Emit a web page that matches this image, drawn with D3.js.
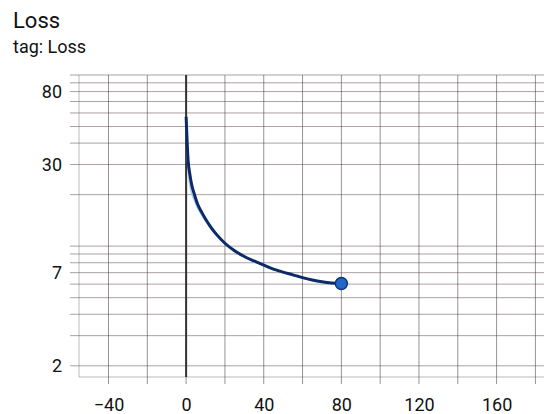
<!DOCTYPE html>
<html>
<head>
<meta charset="utf-8">
<script src="https://cdn.jsdelivr.net/npm/d3@7"></script>
<style>
  body { margin: 0; background: #fff; font-family: Roboto, "Noto Sans", sans-serif; }
  svg { display: block; }
</style>
</head>
<body>
<div id="chart"></div>
<script>
// Loss values per step (smoothed and raw)
const steps = [0, 1, 2, 3, 4, 6, 8, 10, 13, 16, 20, 25, 30, 35, 40, 45, 50, 55, 60, 65, 70, 75, 80];
const smoothedLoss = [57, 32, 26, 22.5, 20.5, 17.5, 15.8, 14.4, 12.8, 11.6, 10.4, 9.4, 8.7, 8.2, 7.75, 7.35, 7.05, 6.8, 6.55, 6.35, 6.2, 6.1, 6.05];
const rawLoss = [52, 28, 22.5, 20, 18.8, 16.6, 15.2, 14, 12.5, 11.4, 10.3, 9.3, 8.65, 8.15, 7.7, 7.3, 7.0, 6.75, 6.5, 6.33, 6.18, 6.08, 6.03];
const xTickValues = [-40, 0, 40, 80, 120, 160];
const xGridValues = [-40, -20, 0, 20, 40, 60, 80, 100, 120, 140, 160, 180];
const yTickValues = [2, 7, 30, 80];

const W = 544, H = 414;
const plot = {left: 79, top: 75, right: 549, bottom: 377};

const svg = d3.select("#chart").append("svg")
    .attr("width", W)
    .attr("height", H);

// Title
svg.append("text")
    .attr("x", 13).attr("y", 28)
    .style("font-size", "22px")
    .style("fill", "#111")
    .text("Loss");
svg.append("text")
    .attr("x", 13).attr("y", 53)
    .style("font-size", "18px")
    .style("fill", "#111")
    .text("tag: Loss");

const xScale = d3.scaleLinear()
    .domain([-55.2, 187])
    .range([plot.left, plot.right]);

const yScale = d3.scaleLog()
    .domain([1.72, 100])
    .range([plot.bottom, plot.top]);

// horizontal grid at every log minor tick
const yGrid = [];
[1, 10, 100].forEach(p => {
    for (let m = 1; m <= 9; m++) {
        const v = m * p;
        if (v >= 1.72 && v <= 100) yGrid.push(v);
    }
});

const grid = svg.append("g").attr("class", "grid");

grid.selectAll(".hgrid")
    .data(yGrid)
    .enter().append("line")
    .attr("x1", 70).attr("x2", W)
    .attr("y1", d => yScale(d)).attr("y2", d => yScale(d))
    .style("stroke", "rgba(90,70,70,0.5)")
    .style("stroke-width", 1);

grid.selectAll(".vgrid")
    .data(xGridValues)
    .enter().append("line")
    .attr("x1", d => xScale(d)).attr("x2", d => xScale(d))
    .attr("y1", plot.top).attr("y2", plot.bottom + 7)
    .style("stroke", "rgba(60,60,60,0.55)")
    .style("stroke-width", 1);

// plot border (left and bottom)
grid.append("line")
    .attr("x1", plot.left).attr("x2", plot.left)
    .attr("y1", plot.top).attr("y2", plot.bottom)
    .style("stroke", "rgba(90,80,80,0.4)");
grid.append("line")
    .attr("x1", plot.left).attr("x2", W)
    .attr("y1", plot.bottom).attr("y2", plot.bottom)
    .style("stroke", "rgba(90,80,80,0.4)");

// zero line
grid.append("line")
    .attr("x1", xScale(0)).attr("x2", xScale(0))
    .attr("y1", plot.top).attr("y2", plot.bottom)
    .style("stroke", "#333")
    .style("stroke-width", 2);

// Axes labels
const xAxis = svg.append("g")
    .attr("transform", `translate(0,${plot.bottom + 7})`)
    .call(d3.axisBottom(xScale).tickValues(xTickValues).tickSize(0).tickPadding(14));
xAxis.select(".domain").remove();
xAxis.selectAll("text")
    .style("font-family", "Roboto, sans-serif")
    .style("font-size", "18px")
    .style("fill", "#111");

const yAxis = svg.append("g")
    .attr("transform", `translate(62,0)`)
    .call(d3.axisLeft(yScale).tickValues(yTickValues).tickFormat(d3.format("d")).tickSize(0).tickPadding(0));
yAxis.select(".domain").remove();
yAxis.selectAll("text")
    .style("font-family", "Roboto, sans-serif")
    .style("font-size", "18px")
    .style("fill", "#111");

// Lines
const line = d3.line()
    .x((d, i) => xScale(steps[i]))
    .y(d => yScale(d))
    .curve(d3.curveMonotoneX);

svg.append("path")
    .datum(rawLoss)
    .attr("d", line)
    .style("fill", "none")
    .style("stroke", "#a9cdf2")
    .style("stroke-width", 1.5);

svg.append("path")
    .datum(smoothedLoss)
    .attr("d", line)
    .style("fill", "none")
    .style("stroke", "#0c2a66")
    .style("stroke-width", 3);

// End point marker
const last = steps.length - 1;
svg.append("circle")
    .attr("cx", xScale(steps[last]))
    .attr("cy", yScale(smoothedLoss[last]))
    .attr("r", 6)
    .style("fill", "#2266c8")
    .style("stroke", "#0f3576")
    .style("stroke-width", 1.5);
</script>
</body>
</html>
